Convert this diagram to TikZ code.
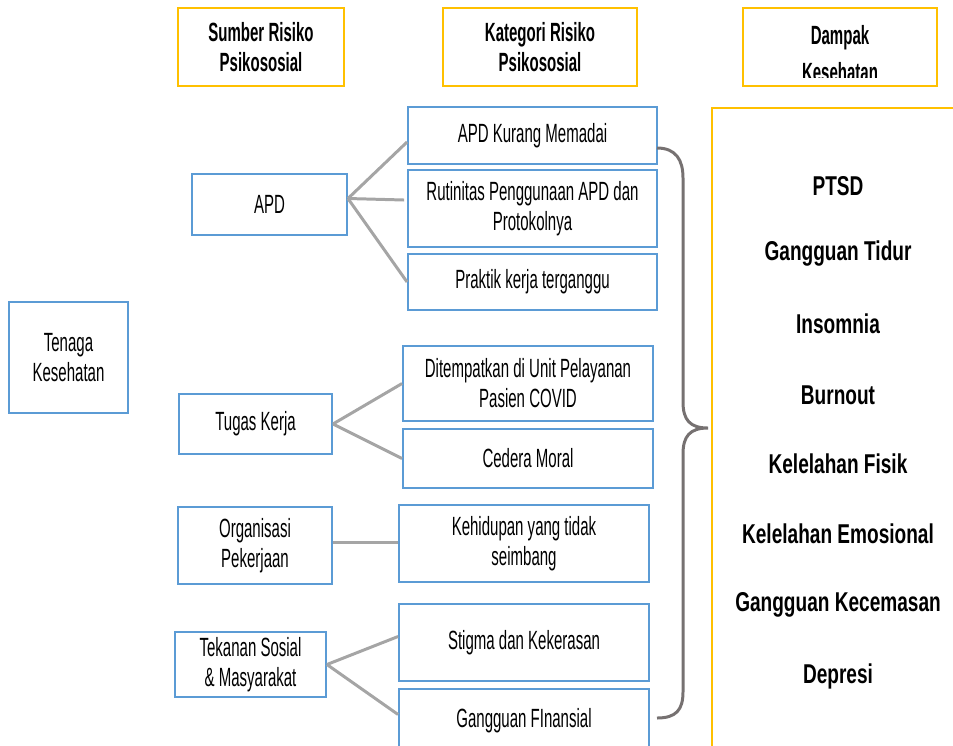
\documentclass[tikz,border=0pt]{standalone}
\usepackage{fontspec}
\setmainfont{Liberation Sans}[FakeStretch=0.57]
\newfontfamily\dampakfont{Liberation Sans}[FakeStretch=0.7]
\usetikzlibrary{calc}
\definecolor{boxblue}{HTML}{5B9BD5}
\definecolor{headyellow}{HTML}{FFC000}
\definecolor{linkgray}{HTML}{A5A5A5}
\definecolor{bracegray}{HTML}{767171}

\begin{document}
\begin{tikzpicture}[x=0.02cm,y=-0.02cm,font=\fontsize{15}{17}\selectfont]
    \tikzstyle{blue box}=[rectangle,draw=boxblue,line width=1.1pt,align=center,inner sep=0pt]
    \tikzstyle{head box}=[rectangle,draw=headyellow,line width=1.3pt,align=center,inner sep=0pt,font=\fontsize{15}{17}\selectfont\bfseries]
    \tikzstyle{link}=[draw=linkgray,line width=1.7pt]
    \tikzstyle{dampak}=[font=\fontsize{15.5}{17}\selectfont\dampakfont\bfseries]
    \useasboundingbox (0,0) rectangle (953,745);

    \node(h1)[head box,minimum width=3.32cm,minimum height=1.56cm] at (261,47) {Sumber Risiko\\Psikososial};
    \node(h2)[head box,minimum width=3.88cm,minimum height=1.56cm] at (540,47) {Kategori Risiko\\Psikososial};
    \node(h3)[head box,minimum width=3.88cm,minimum height=1.56cm] at (840,47) {};
    \begin{scope}
        \clip (743,8) rectangle (937,77);
        \node(h3t)[font=\fontsize{15}{17}\selectfont\bfseries,align=center] at (840,54) {Dampak\\[4pt]Kesehatan};
    \end{scope}

    \node(tk)[blue box,minimum width=2.38cm,minimum height=2.22cm] at (68.5,357.5) {Tenaga\\Kesehatan};

    \node(apd)[blue box,minimum width=3.1cm,minimum height=1.22cm] at (269.5,204.5) {APD};
    \node(tugas)[blue box,minimum width=3.06cm,minimum height=1.2cm] at (255.5,424) {Tugas Kerja};
    \node(org)[blue box,minimum width=3.08cm,minimum height=1.54cm] at (255,545.5) {Organisasi\\Pekerjaan};
    \node(tekanan)[blue box,minimum width=3.02cm,minimum height=1.3cm] at (250.5,664.5) {Tekanan Sosial\\\& Masyarakat};

    \node(k1)[blue box,minimum width=4.98cm,minimum height=1.14cm] at (532.5,135.5) {APD Kurang Memadai};
    \node(k2)[blue box,minimum width=4.98cm,minimum height=1.54cm] at (532.5,208.5) {Rutinitas Penggunaan APD dan\\Protokolnya};
    \node(k3)[blue box,minimum width=4.98cm,minimum height=1.12cm] at (532.5,282) {Praktik kerja terganggu};
    \node(k4)[blue box,minimum width=5cm,minimum height=1.5cm] at (528,383.5) {Ditempatkan di Unit Pelayanan\\Pasien COVID};
    \node(k5)[blue box,minimum width=5cm,minimum height=1.18cm] at (528,458.5) {Cedera Moral};
    \node(k6)[blue box,minimum width=5cm,minimum height=1.54cm] at (524,543.5) {Kehidupan yang tidak\\seimbang};
    \node(k7)[blue box,minimum width=5cm,minimum height=1.54cm] at (524,642.5) {Stigma dan Kekerasan};
    \node(k8)[blue box,minimum width=5cm,minimum height=1.26cm] at (524,720.5) {Gangguan FInansial};

    \coordinate(apdj) at ($(apd.east)+(0,-6)$);
    \draw[link] (apdj) -- ($(k1.west)+(0,6.5)$);
    \draw[link] (apdj) -- ($(k2.west)+(-3,-8.5)$);
    \draw[link] (apdj) -- (k3.west);
    \draw[link] (tugas.east) -- (k4.west);
    \draw[link] (tugas.east) -- (k5.west);
    \draw[link] ($(org.east)+(0,-3)$) -- ($(org.east -| k6.west)+(0,-3)$);
    \draw[link] (tekanan.east) -- ($(k7.west)+(0,-6)$);
    \draw[link] (tekanan.east) -- ($(k8.west)+(0,-6)$);

    \draw[bracegray,line width=1.7pt] (657,148) .. controls (676,148) and (683,160) .. (683,178) -- (683,402)
        .. controls (683,420) and (690,428) .. (708,428)
        .. controls (690,428) and (683,436) .. (683,454) -- (683,692)
        .. controls (683,710) and (676,718) .. (657,718);

    \draw[headyellow,line width=1.3pt] (712,800) -- (712,108) -- (1000,108);

    \foreach \name/\y/\txt in {d1/186/PTSD,d2/254/Gangguan Tidur,d3/324/Insomnia,d4/395/Burnout,
        d5/464/Kelelahan Fisik,d6/534/Kelelahan Emosional,d7/605/Gangguan Kecemasan,d8/676/Depresi}
        \node(\name)[dampak] at (838,\y) {\txt};
\end{tikzpicture}
\end{document}
